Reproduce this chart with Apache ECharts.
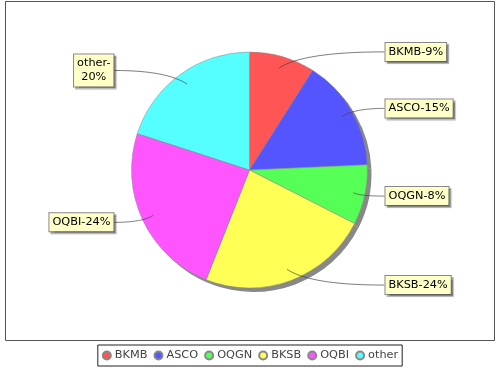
<!DOCTYPE html>
<html><head><meta charset="utf-8">
<script src="https://cdn.jsdelivr.net/npm/echarts@6/dist/echarts.min.js"></script>
<style>html,body{margin:0;padding:0;background:#fff}#c{width:500px;height:370px}</style>
</head><body><div id="c"></div>
<script>
const categories = ['BKMB', 'ASCO', 'OQGN', 'BKSB', 'OQBI', 'other'];
const values = [9, 15.3, 8.2, 23.5, 24, 20];
const colors = ['#ff5555', '#5555ff', '#55ff55', '#ffff55', '#ff55ff', '#55ffff'];

const CX = 249.5, CY = 170, R = 118;
const FONT = 'DejaVu Sans';
const chart = echarts.init(document.getElementById('c'), null, {renderer: 'canvas'});
const data = categories.map((n, i) => ({name: n, value: values[i]}));

const option = {
  backgroundColor: '#fff',
  animation: false,
  color: colors,
  graphic: [{
    type: 'rect', z: -10, silent: true,
    shape: {x: 5.5, y: 1.5, width: 489, height: 339},
    style: {fill: '#fff', stroke: '#555', lineWidth: 1}
  }],
  legend: {
    data: categories,
    left: 'center', top: 345,
    icon: 'circle', itemWidth: 8, itemHeight: 8, itemGap: 6,
    padding: [5, 4],
    borderColor: '#222', borderWidth: 1,
    textStyle: {fontFamily: FONT, fontSize: 11.3, color: '#444', padding: [0, 0, 0, -1]}
  },
  series: [
    {
      type: 'pie', name: 'main', z: 3,
      center: [CX, CY], radius: R, startAngle: 90, clockwise: true,
      percentPrecision: 0,
      emphasis: {scale: false},
      itemStyle: {borderColor: '#888', borderWidth: 0.5},
      data: data,
      label: {
        show: true, position: 'outside',
        formatter: p => p.name === 'other' ? p.name + '-\n' + p.percent + '%' : p.name + '-' + p.percent + '%',
        fontFamily: FONT, fontSize: 11.3, color: '#000', lineHeight: 14,
        backgroundColor: '#ffffc8', borderColor: '#888', borderWidth: 1,
        padding: [2, 3],
        shadowColor: 'rgba(0,0,0,0.3)', shadowOffsetX: 2, shadowOffsetY: 2, shadowBlur: 1
      },
      labelLine: {show: true, showAbove: true, length: 5, length2: 8, smooth: false,
        lineStyle: {color: '#444', width: 0.7}},
      labelLayout: function (p) {
        const pts = p.labelLinePoints;
        if (!pts) return {};
        const dx = (pts[0][0] - CX) / R, dy = (pts[0][1] - CY) / R;
        const isLeft = dx < 0;
        const s = isLeft ? -1 : 1;
        const w = p.labelRect.width;
        const yc = p.labelRect.y + p.labelRect.height / 2;
        const edgeX = isLeft ? CX - R - 17 : CX + R + 17;
        const x = isLeft ? edgeX - w / 2 : edgeX + w / 2;
        // curved leader: starts inside the slice, ends horizontally at the label box
        const P0 = [CX + dx * R * 0.9, CY + dy * R * 0.9];
        const P2 = [edgeX, yc];
        let cx = P0[0] + s * 1.5 * Math.abs(yc - P0[1]);
        cx = isLeft ? Math.max(cx, P2[0]) : Math.min(cx, P2[0]);
        const C = [cx, yc];
        const line = [];
        const N = 30;
        for (let k = 0; k <= N; k++) {
          const t = k / N, a = (1 - t) * (1 - t), b = 2 * t * (1 - t), c = t * t;
          line.push([a * P0[0] + b * C[0] + c * P2[0], a * P0[1] + b * C[1] + c * P2[1]]);
        }
        return {x: x, align: 'center', labelLinePoints: line};
      }
    },
    {
      type: 'pie', name: 'shadow', z: 1, silent: true,
      center: [CX + 4, CY + 4], radius: R, startAngle: 90, clockwise: true,
      emphasis: {disabled: true},
      itemStyle: {color: '#888'},
      label: {show: false}, labelLine: {show: false},
      data: data
    }
  ]
};
chart.setOption(option);

// draw the leader lines above the slices (they start inside each slice)
function liftGuideLines() {
  const d = chart.getModel().getSeriesByIndex(0).getData();
  d.each(function (i) {
    const el = d.getItemGraphicEl(i);
    const g = el && el.getTextGuideLine();
    if (g) {
      el.textGuideLineConfig = Object.assign(el.textGuideLineConfig || {}, {showAbove: true});
      g.z2 = (el.z2 || 0) + 1;
      g.markRedraw();
    }
  });
  chart.getZr().refresh();
}
liftGuideLines();
</script>
</body></html>
